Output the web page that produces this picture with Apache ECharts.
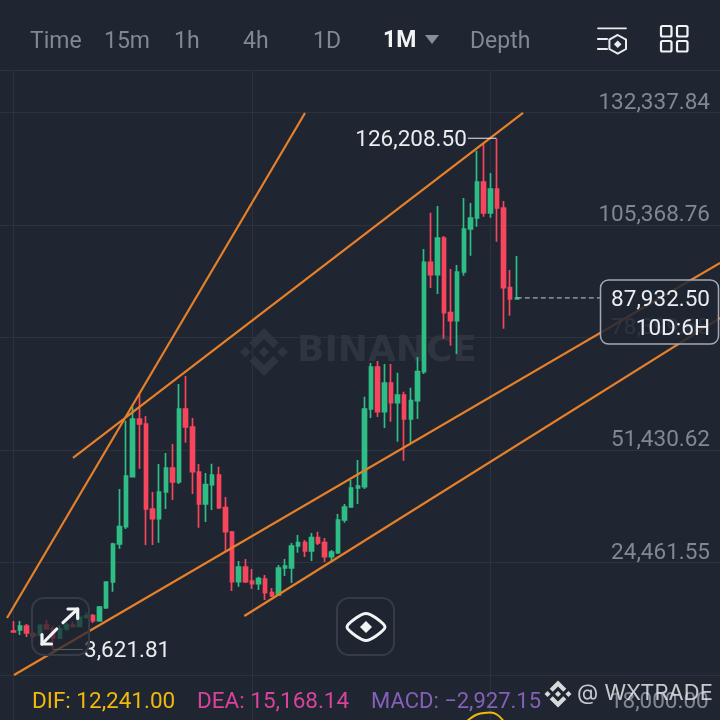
<!DOCTYPE html>
<html>
<head>
<meta charset="utf-8">
<style>html,body{margin:0;padding:0;background:#1f2631}#c{width:720px;height:720px}</style>
<script src="https://cdn.jsdelivr.net/npm/echarts@6/dist/echarts.min.js"></script>
</head>
<body>
<div id="c"></div>
<script>
// Monthly candles, Sep 2019 onward: [open, close, low, high]
const ohlc = [
[8048,7808,7640,10446],[8288,9247,7089,10446],[9247,7569,6609,9727],[7329,6969,6370,7808],
[7089,9415,6849,9607],[9487,8528,8408,10686],[8523,6410,3621.81,9188],[6410,8629,6150,9460],
[8629,9450,8100,10080],[9450,9130,8870,10380],[9130,11340,8970,11440],[11340,11650,11000,12480],
[11717,10518,9967,12125],[10518,13803,10278,14043],[13636,19798,13324,19870],[19798,28911,17472,29223],
[28911,33059,27784,42100],[33059,45217,32508,58478],[45049,58886,44977,61835],[58886,57687,46968,64881],
[57687,37304,28671,59605],[37304,34978,28671,41380],[34978,41380,29223,48095],[41380,47136,37304,50733],
[47136,43778,39462,52891],[43778,61284,43299,67279],[61284,56967,53203,69197],[56967,46248,40901,59126],
[46176,38503,32820,48095],[38503,43131,34186,45937],[43131,45457,37064,48167],[45457,37616,37300,47447],
[37616,31860,27064,40181],[31788,19870,17640,32000],[19870,23395,18671,24834],[23395,19870,19559,25314],
[20038,19391,18120,22916],[19391,20590,17880,21069],[20518,17233,15482,21477],[17233,16441,16201,18360],
[16681,23156,16500,23875],[23156,23635,21237,25314],[23156,28431,19559,29151],[28431,29223,26825,31069],
[29223,27232,25793,29870],[27232,30422,24834,31549],[30422,29151,28671,31860],[29223,25865,24594,30350],
[25865,26992,24834,27472],[26825,34666,26513,36105],[34666,37783,34019,38503],[37783,42340,37616,44258],
[42340,42819,38503,49054],[42651,61284,42100,64233],[61284,71355,59126,72315],[71355,60636,59365,72794],
[60636,67519,56728,72075],[67519,62795,58238,72075],[62795,64641,53442,69989],[64641,58886,48886,65432],
[58886,63274,53131,66392],[63274,70228,58886,73753],[70228,96462,69677,99652],[96462,93489,90300,108357],
[93489,102290,88861,109963],[102290,84377,78142,102769],[84377,82458,76463,94856],[82458,94136,74473,95815],
[94136,104448,93249,111882],[104448,107086,98045,110683],[107086,115718,104999,123224],[115718,108285,107397,124831],
[108285,114040,107158,117877],[114040,109484,101402,126208.5],[109484,90372,80540,111162],[90372,87662,83657,94616],
[87662,87932.5,87590,97973]
];
// Value ticks
const tickLabels = [132337.84,105368.76,78399.68,51430.62,24461.55];
const yMin = -2507.5, yMax = 142571.5;
// Hand-drawn trend lines: [slot, price] end points on the same scale as the candles
const trendA = [[1.51,11166],[46.51,132265]];
const trendB = [[11.48,49534],[79.44,132265]];
const trendC = [[2.57,-2503],[109.2,96295]];
const trendD = [[37.35,11645],[109.2,83106]];
// High / low / last price markers
const highMark = [[71.1,126208.5],[75.4,126208.5]];
const lowMark = [[8.5,3621.81],[12.99,3621.81]];
const lastLine = [[78.5,87932.5],[91.06,87932.5]];
// DIF curve of the MACD pane (only its visible peak), by candle index
const difStart = 67;
const difValues = [13000,15000,16360,17320,17680,17800,17320,15760,13000];
const macdTicks = [18000];

const padL = 1, slots = 108;
const months = [];
for (let i = 0; i < slots; i++) {
  const k = i - padL;
  if (k < 0 || k >= ohlc.length) { months.push(''); continue; }
  const m = 8 + k;
  months.push((2019 + Math.floor(m / 12)) + '-' + String(m % 12 + 1).padStart(2, '0'));
}
const candles = months.map((_, i) => ohlc[i - padL] || '-');
const dif = months.map((_, i) => {
  const v = difValues[i - padL - difStart];
  return v === undefined ? '-' : v;
});

const FONT = 'Roboto, sans-serif';
const BG = '#1f2631', GRID = '#2c333e', GREEN = '#2ebd85', RED = '#f6465d', ORANGE = '#e8802a';
const fmt = v => v.toLocaleString('en-US', {minimumFractionDigits: 2, maximumFractionDigits: 2});

const logoParts = [
  [[38.73,53.2],[63.32,28.62],[87.92,53.22],[102.22,38.91],[63.32,0],[24.43,38.9]],
  [[0,63.31],[14.3,49],[28.61,63.31],[14.3,77.61]],
  [[38.73,73.41],[63.32,98],[87.92,73.4],[102.23,87.69],[63.33,126.6],[24.42,87.72]],
  [[98,63.31],[112.3,49],[126.61,63.3],[112.3,77.61]],
  [[77.83,63.3],[63.32,48.78],[48.81,63.28],[63.32,77.78]]
];

function txt(text, x, y, fill, size, weight, align, z) {
  return {type: 'text', z: z || 100, style: {text, x, y, fill, align: align || 'left', verticalAlign: 'middle',
    font: (weight || 'normal') + ' ' + size + 'px ' + FONT}};
}
function logo(cx, cy, s, fill, z) {
  const k = s / 126.6;
  return logoParts.map(p => ({type: 'polygon', z, shape: {points: p.map(q => [cx - s / 2 + q[0] * k, cy - s / 2 + q[1] * k])}, style: {fill}}));
}
function line(pts, stroke, w, z) {
  return {type: 'polyline', z: z || 100, shape: {points: pts}, style: {stroke, lineWidth: w, fill: null, lineCap: 'round', lineJoin: 'round'}};
}
function button(x, y) {
  return {type: 'rect', z: 50, shape: {x, y, width: 57, height: 57, r: 12}, style: {fill: 'rgba(31,38,49,0.72)', stroke: '#363c47', lineWidth: 2}};
}
function box(x, y, w, h, r) {
  return {type: 'rect', z: 100, shape: {x, y, width: w, height: h, r}, style: {fill: null, stroke: '#f2f3f5', lineWidth: 2.2}};
}

const graphics = [
  ...logo(264, 352, 48, '#2e3540', 1),
  {type: 'text', z: 1, style: {text: 'BINANCE', x: 297, y: 352, fill: '#2e3540', verticalAlign: 'middle', font: 'bold 36px "DejaVu Sans", sans-serif'}},

  txt('Time', 30, 42.5, '#7f8894', 23),
  txt('15m', 104, 42.5, '#7f8894', 23),
  txt('1h', 174, 42.5, '#7f8894', 23),
  txt('4h', 243, 42.5, '#7f8894', 23),
  txt('1D', 313, 42.5, '#7f8894', 23),
  txt('1M', 383, 41.5, '#f2f3f5', 23, 'bold'),
  {type: 'polygon', z: 100, shape: {points: [[425,35],[439,35],[432,44]]}, style: {fill: '#848e9c'}},
  txt('Depth', 470, 42.5, '#7f8894', 23),

  line([[598,28.3],[626,28.3]], '#eaecef', 1.8),
  line([[598,39],[607,39]], '#eaecef', 2.2),
  line([[598,49],[607,49]], '#eaecef', 2.2),
  {type: 'polygon', z: 100, shape: {points: [[617.7,35],[626,39.7],[626,49],[617.7,53.7],[609.4,49],[609.4,39.7]]}, style: {fill: null, stroke: '#eaecef', lineWidth: 2}},
  {type: 'polygon', z: 100, shape: {points: [[617.7,40.5],[621.5,44.3],[617.7,48.1],[613.9,44.3]]}, style: {fill: '#eaecef'}},
  box(661, 26, 10.5, 10.5, 1.5), box(677, 26, 10.5, 10.5, 1.5), box(661, 41, 10.5, 10.5, 1.5), box(677, 41, 10.5, 10.5, 1.5),

  button(32, 598), button(337, 598),
  line([[63,622.7],[77.7,609]], '#f2f3f5', 3.2), line([[68,609],[77.7,609],[77.7,618.5]], '#f2f3f5', 3.2),
  line([[56.7,629],[42,644]], '#f2f3f5', 3.2), line([[42,634.5],[42,644],[51.5,644]], '#f2f3f5', 3.2),
  {type: 'polygon', z: 100, shape: {points: [[347,627],[356,618],[366,613.5],[376,618],[385,627],[376,636],[366,640.5],[356,636]], smooth: 0.25}, style: {fill: null, stroke: '#f2f3f5', lineWidth: 3}},
  {type: 'polygon', z: 100, shape: {points: [[366,621],[372,627],[366,633],[360,627]]}, style: {fill: '#f2f3f5'}},

  {type: 'rect', z: 60, shape: {x: 600.5, y: 280, width: 118, height: 64, r: 8}, style: {fill: 'rgba(31,38,49,0.85)', stroke: '#a4a9b2', lineWidth: 1.5}},
  txt('87,932.50', 710, 300.5, '#eaecef', 22.5, 'normal', 'right'),
  txt('10D:6H', 710, 329, '#eaecef', 22.5, 'normal', 'right'),

  txt('DIF: 12,241.00', 32, 702.5, '#f0b90b', 22.5),
  txt('DEA: 15,168.14', 197, 702.5, '#d9439c', 22.5),
  txt('MACD: \u22122,927.15', 371, 702.5, '#8560b8', 22),

  ...logo(558, 694, 27, '#d8d9da', 110),
  {type: 'text', z: 110, style: {text: '@ WXTRADE', x: 577, y: 693, fill: 'rgba(222,223,225,0.88)', verticalAlign: 'middle', font: '22px Inter, sans-serif'}}
];

function catAxis(gridIndex) {
  return {type: 'category', gridIndex, data: months, boundaryGap: true,
    axisLine: {show: false}, axisTick: {show: false}, axisLabel: {show: false},
    splitLine: {show: true, alignWithLabel: true, interval: i => i >= padL && (i - padL) % 36 === 0, lineStyle: {color: GRID, width: 1}}};
}
function trend(data) {
  return {type: 'line', xAxisIndex: 2, yAxisIndex: 0, data, symbol: 'none', silent: true, z: 5, lineStyle: {color: ORANGE, width: 2.2}};
}

const labelFont = {fontFamily: FONT, fontSize: 22.5, lineHeight: 19, verticalAlign: 'bottom', color: '#7f8894', margin: 10};

const option = {
  backgroundColor: BG,
  animation: false,
  graphic: {elements: graphics},
  grid: [
    {left: 0, right: 0, top: 70, height: 605},
    {left: 3.57, width: 715.15, top: 675, height: 45},
    {left: 3.57, width: 715.15, top: 70, height: 605}
  ],
  xAxis: [
    catAxis(2), catAxis(1),
    {type: 'value', gridIndex: 0, min: 0.453, max: 109.183, show: false, splitLine: {show: false}}
  ],
  yAxis: [
    {type: 'value', gridIndex: 0, position: 'right', min: yMin, max: yMax, scale: true,
      axisLine: {show: false},
      axisTick: {show: false, customValues: [yMin].concat(tickLabels.slice().reverse(), [yMax])},
      axisLabel: {show: true, inside: true, customValues: tickLabels, formatter: fmt, ...labelFont},
      splitLine: {show: true, lineStyle: {color: GRID, width: 1.2}}},
    {type: 'value', gridIndex: 1, position: 'right', min: 16000, max: 26800, scale: true,
      axisLine: {show: false},
      axisTick: {show: false, customValues: macdTicks},
      axisLabel: {show: true, inside: true, customValues: macdTicks, formatter: fmt, ...labelFont},
      splitLine: {show: false}},
    {type: 'value', gridIndex: 2, position: 'right', min: yMin, max: yMax, scale: true, show: false, splitLine: {show: false}}
  ],
  series: [
    {type: 'candlestick', xAxisIndex: 0, yAxisIndex: 2, data: candles, barWidth: 4, z: 3,
      itemStyle: {color: GREEN, color0: RED, borderColor: GREEN, borderColor0: RED, borderWidth: 1.7}},
    trend(trendA), trend(trendB), trend(trendC), trend(trendD),
    {type: 'line', xAxisIndex: 2, yAxisIndex: 0, symbol: 'none', silent: true, z: 4, data: lastLine,
      lineStyle: {color: '#a4a9b2', width: 1.2, type: [5, 3]}},
    {type: 'line', xAxisIndex: 2, yAxisIndex: 0, symbol: 'circle', symbolSize: 0, showSymbol: true, silent: true, z: 6,
      lineStyle: {color: '#eaecef', width: 1},
      data: [{value: highMark[0], label: {show: true, position: 'left', distance: 1, offset: [0, 2], formatter: () => fmt(highMark[0][1]), color: '#eaecef', fontFamily: FONT, fontSize: 22.5}}, {value: highMark[1]}]},
    {type: 'line', xAxisIndex: 2, yAxisIndex: 0, symbol: 'circle', symbolSize: 0, showSymbol: true, silent: true, z: 6,
      lineStyle: {color: '#eaecef', width: 1},
      data: [{value: lowMark[0]}, {value: lowMark[1], label: {show: true, position: 'right', distance: 1, offset: [0, 2], formatter: '3,621.81', color: '#eaecef', fontFamily: FONT, fontSize: 22.5}}]},
    {type: 'line', xAxisIndex: 1, yAxisIndex: 1, data: dif, symbol: 'none', smooth: true, silent: true, lineStyle: {color: '#f0b90b', width: 2}}
  ]
};
const chart = echarts.init(document.getElementById('c'), null, {renderer: 'canvas'});
chart.setOption(option);
</script>
</body>
</html>
